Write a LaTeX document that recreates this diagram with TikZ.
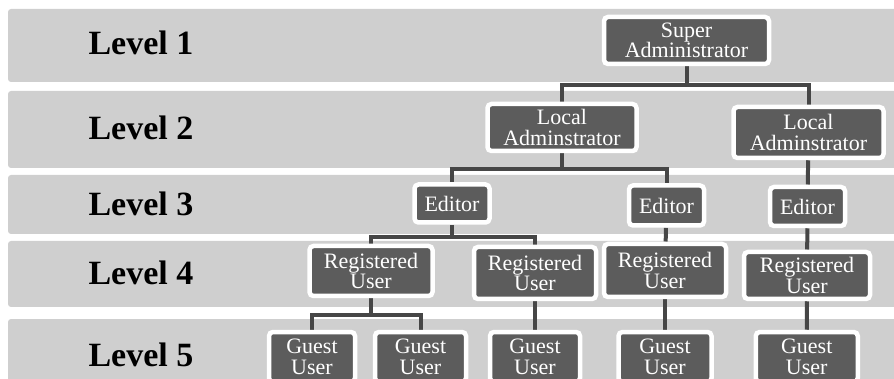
\documentclass[tikz,border=0pt]{standalone}
\usepackage{fontspec}
\setmainfont{Liberation Serif}
\usepackage{tikz}
\definecolor{bandgray}{HTML}{CFCFCF}
\definecolor{boxgray}{HTML}{5C5C5C}
\definecolor{linegray}{HTML}{464646}
\pgfdeclarelayer{bands}
\pgfdeclarelayer{links}
\pgfsetlayers{bands,links,main}
\tikzset{
  band/.style={fill=bandgray, rounded corners=3pt},
  lvl/.style={anchor=base west, font=\fontsize{34}{34}\selectfont\bfseries},
  role/.style={draw=white, line width=4.5pt, fill=boxgray, rounded corners=4pt,
    text=white, align=center, inner sep=0pt, font=\fontsize{22}{20.5}\selectfont},
  link/.style={draw=linegray, line width=4pt},
}

\begin{document}
\begin{tikzpicture}[x=1pt, y=-1pt]
\useasboundingbox (0,0) rectangle (894,379);
\clip (0,0) rectangle (894,379);

% the five level bands
\begin{pgfonlayer}{bands}
\fill[band] (8,9)   rectangle (900,82);
\fill[band] (8,91)  rectangle (900,168);
\fill[band] (8,175) rectangle (900,234);
\fill[band] (8,241) rectangle (900,307);
\fill[band] (8,319) rectangle (900,400);
\end{pgfonlayer}

\node[lvl] (L1) at (85,55)  {Level 1};
\node[lvl] (L2) at (85,140) {Level 2};
\node[lvl] (L3) at (85,216) {Level 3};
\node[lvl] (L4) at (85,285) {Level 4};
\node[lvl] (L5) at (85,366) {Level 5};

\node[role, minimum width=165, minimum height=47] (SA) at (686.5,40.5) {Super\\Administrator};

\node[role, minimum width=149, minimum height=47] (LA1) at (562,127.5) {Local\\Adminstrator};
\node[role, minimum width=150, minimum height=51] (LA2) at (808.5,132.5) {Local\\Adminstrator};

\node[role, minimum width=75, minimum height=38] (ED1) at (452,203.5) {Editor};
\node[role, minimum width=75, minimum height=40] (ED2) at (666.5,205.5) {Editor};
\node[role, minimum width=75, minimum height=39] (ED3) at (807.5,206.5) {Editor};

\node[role, minimum width=123, minimum height=50] (RU1) at (371,271)   {Registered\\User};
\node[role, minimum width=122, minimum height=52] (RU2) at (535,273)   {Registered\\User};
\node[role, minimum width=122, minimum height=53] (RU3) at (665,270.5) {Registered\\User};
\node[role, minimum width=126, minimum height=47] (RU4) at (807,275.5) {Registered\\User};

\node[role, minimum width=86,  minimum height=50] (GU1) at (312,357)    {Guest\\User};
\node[role, minimum width=91,  minimum height=50] (GU2) at (420.5,357)  {Guest\\User};
\node[role, minimum width=90,  minimum height=50] (GU3) at (535,357)    {Guest\\User};
\node[role, minimum width=93,  minimum height=50] (GU4) at (665,357)    {Guest\\User};
\node[role, minimum width=102, minimum height=50] (GU5) at (806.75,357) {Guest\\User};

% branch points
\coordinate (J1) at (686.5,85);
\coordinate (J2) at (562,169);
\coordinate (J3) at (452,237);
\coordinate (J4) at (371,315);

\begin{pgfonlayer}{links}
\draw[link] (SA) -- (J1);
\draw[link] (J1) -| (LA1);
\draw[link] (J1) -| (LA2);

\draw[link] (LA1) -- (J2);
\draw[link] (J2) -| (ED1);
\draw[link] (J2) -| (ED2);
\draw[link] (LA2) -- (ED3);

\draw[link] (ED1) -- (J3);
\draw[link] (J3) -| (RU1);
\draw[link] (J3) -| (RU2);
\draw[link] (ED2) -- (RU3);
\draw[link] (ED3) -- (RU4);

\draw[link] (RU1) -- (J4);
\draw[link] (J4) -| (GU1);
\draw[link] (J4) -| (GU2);
\draw[link] (RU2) -- (GU3);
\draw[link] (RU3) -- (GU4);
\draw[link] (RU4) -- (GU5);
\end{pgfonlayer}

\end{tikzpicture}
\end{document}
